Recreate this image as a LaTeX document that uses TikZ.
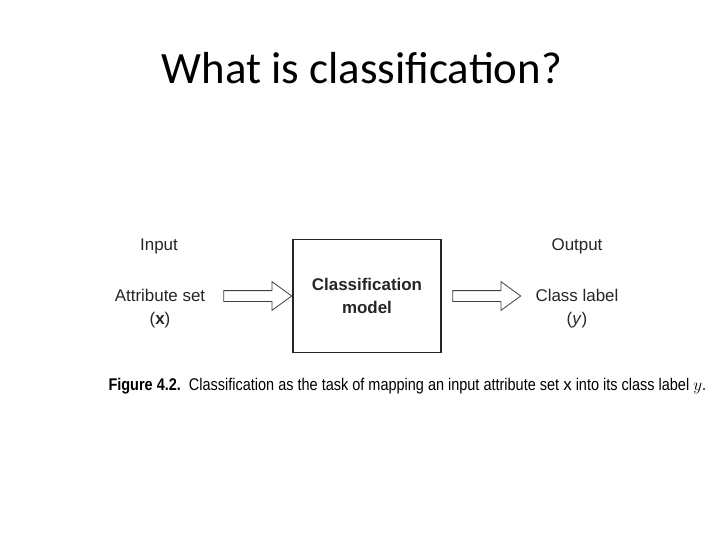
\documentclass[tikz,border=0pt]{standalone}
\usepackage{fontspec}
\setmainfont{Liberation Sans}
\newfontfamily\titlefont{Carlito}
\newfontfamily\capfont[FakeStretch=0.855]{Liberation Sans}
\usetikzlibrary{shapes.arrows}
\tikzset{
	lbl/.style={font=\fontsize{17}{23}\selectfont, text=black!85, align=center},
	blockarrow/.style={single arrow, draw=black!75, line width=0.8pt, fill=white, inner sep=5bp,
		minimum height=68bp, minimum width=28bp, single arrow head extend=9bp, single arrow tip angle=72}
}

\begin{document}
\begin{tikzpicture}[x=1bp, y=-1bp]
		%%%%% START %%%%%
		
		\useasboundingbox[fill=white] (0, 0) rectangle (720, 540);
		
		\node[font=\titlefont\fontsize{45}{50}\selectfont] (title) at (362, 68) {What is classification?};
		
		\node[draw=black!85, line width=1.6pt, minimum width=148bp, minimum height=113bp] (model) at (367, 296) {};
		\node[lbl, font=\bfseries\fontsize{17}{23}\selectfont] (modeltext) at (367, 296) {Classification\\model};
		
		\node[lbl] (input) at (159, 246) {Input};
		\node[lbl] (attr) at (160, 309) {Attribute set\\(\textbf{x})};
		\node[lbl] (output) at (577, 246) {Output};
		\node[lbl] (label) at (577, 309) {Class label\\(\textit{y})};
		
		\node[blockarrow] (inarrow) at (254, 296) {};
		\node[blockarrow] (outarrow) at (483, 296) {};
		
		\node[anchor=west, font=\capfont\fontsize{17}{20}\selectfont] (caption) at (105, 386)
			{\textbf{Figure 4.2.}\ \ Classification as the task of mapping an input attribute set $\mathrm{x}$ into its class label $y$.};
		
		%%%%% END %%%%%
	\end{tikzpicture}
\end{document}
